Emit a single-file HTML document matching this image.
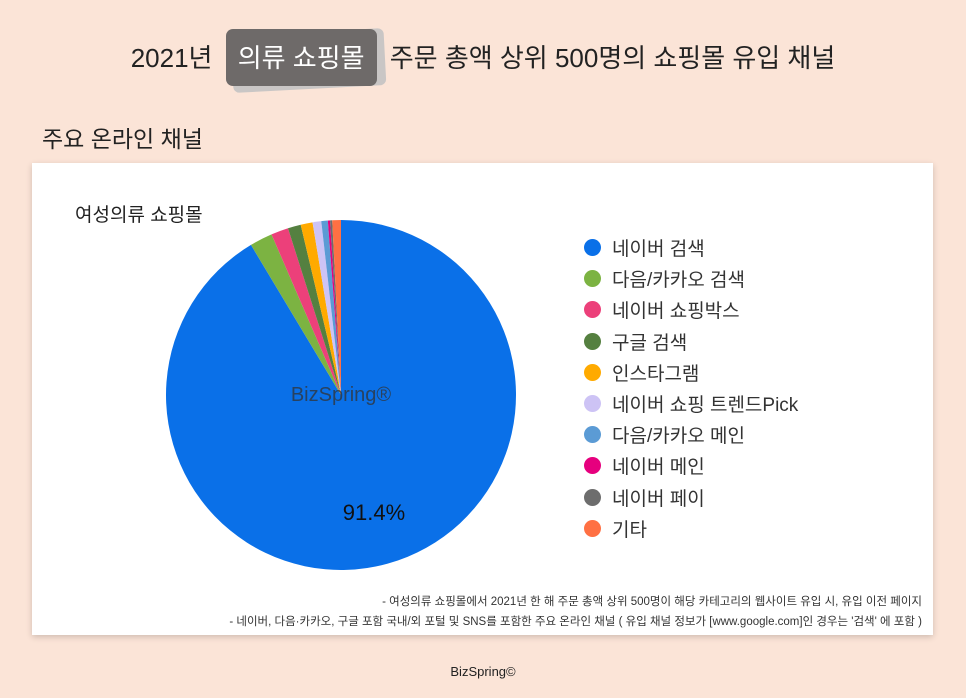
<!DOCTYPE html>
<html><head><meta charset="utf-8">
<style>
body{margin:0;width:966px;height:698px;background:#fbe4d7;font-family:"Liberation Sans","Noto Sans CJK KR",sans-serif;position:relative;overflow:hidden;color:#222}
.abs{position:absolute}
#title{left:0;top:38px;width:966px;text-align:center;font-size:26px;white-space:nowrap}
.hl{display:inline-block;position:relative;padding:0 10px;margin:0 8px;color:#fff;z-index:1}
.hl:before{content:"";position:absolute;left:4px;right:-10px;top:-6px;bottom:-14px;background:#c9c6c5;transform:rotate(-3deg);z-index:-2;border-radius:6px}
.hl:after{content:"";position:absolute;left:-2px;right:-2px;top:-9px;bottom:-11px;background:#6e6a69;z-index:-1;border-radius:7px}
#card{left:32px;top:163px;width:901px;height:472px;background:#fff;box-shadow:0 2px 6px rgba(0,0,0,.18)}
.leg{font-size:19px;color:#333}
.dot{position:absolute;width:17px;height:17px;border-radius:50%}
</style></head><body>
<div id="title" class="abs">2021년 <span class="hl">의류 쇼핑몰</span> 주문 총액 상위 500명의 쇼핑몰 유입 채널</div>
<div class="abs" style="left:42px;top:120px;font-size:23px">주요 온라인 채널</div>
<div id="card" class="abs"></div>
<div class="abs" style="left:75px;top:200px;font-size:19px">여성의류 쇼핑몰</div>
<svg class="abs" style="left:0;top:0" width="966" height="698" id="svg"></svg>
<div class="abs" style="right:44px;top:592px;font-size:11.5px;text-align:right;line-height:20px;color:#333">- 여성의류 쇼핑몰에서 2021년 한 해 주문 총액 상위 500명이 해당 카테고리의 웹사이트 유입 시, 유입 이전 페이지<br>- 네이버, 다음·카카오, 구글 포함 국내/외 포털 및 SNS를 포함한 주요 온라인 채널 ( 유입 채널 정보가 [www.google.com]인 경우는 '검색' 에 포함 )</div>
<div class="abs" style="left:0;width:966px;top:664px;text-align:center;font-size:13px">BizSpring©</div>
<script>
const categories=["네이버 검색","다음/카카오 검색","네이버 쇼핑박스","구글 검색","인스타그램","네이버 쇼핑 트렌드Pick","다음/카카오 메인","네이버 메인","네이버 페이","기타"];
const values=[91.4,2.1,1.6,1.2,1.1,0.8,0.6,0.2,0.2,0.8];
const colors=["#0a70e8","#7cb342","#ec407a","#558040","#ffaa00","#cdc3f5","#5b9bd5","#e6007e","#6d6d6d","#ff7043"];
const NS="http://www.w3.org/2000/svg";
const svg=document.getElementById('svg');
const cx=341,cy=395,r=175;
const total=values.reduce((a,b)=>a+b,0);
let a0=0;
values.forEach((v,i)=>{
  const a1=a0+v/total*2*Math.PI;
  const p=document.createElementNS(NS,'path');
  const x0=cx+r*Math.sin(a0),y0=cy-r*Math.cos(a0),x1=cx+r*Math.sin(a1),y1=cy-r*Math.cos(a1);
  p.setAttribute('d',`M${cx},${cy}L${x0},${y0}A${r},${r} 0 ${a1-a0>Math.PI?1:0} 1 ${x1},${y1}Z`);
  p.setAttribute('fill',colors[i]);
  
  
  svg.appendChild(p);
  a0=a1;
});
const wm=document.createElementNS(NS,'text');
wm.setAttribute('x',cx);wm.setAttribute('y',cy+6);wm.setAttribute('text-anchor','middle');
wm.setAttribute('font-size','20');wm.setAttribute('fill','#333');wm.setAttribute('opacity','0.75');
wm.textContent='BizSpring®';


svg.appendChild(wm);
const lbl=document.createElementNS(NS,'text');
lbl.setAttribute('x',cx+33);lbl.setAttribute('y',cy+125);
lbl.setAttribute('text-anchor','middle');lbl.setAttribute('font-size','22');lbl.setAttribute('fill','#111');
lbl.textContent=values[0]+'%';


svg.appendChild(lbl);
categories.forEach((c,i)=>{
  const y=247+i*31.2;
  const d=document.createElement('div');d.className='dot';d.style.left='584px';d.style.top=(y-8)+'px';d.style.background=colors[i];
  
  
  document.body.appendChild(d);
  const t=document.createElement('div');t.className='abs leg';t.style.left='612px';t.style.top=(y-13)+'px';t.textContent=c;
  
  
  document.body.appendChild(t);
});
</script>
</body></html>
